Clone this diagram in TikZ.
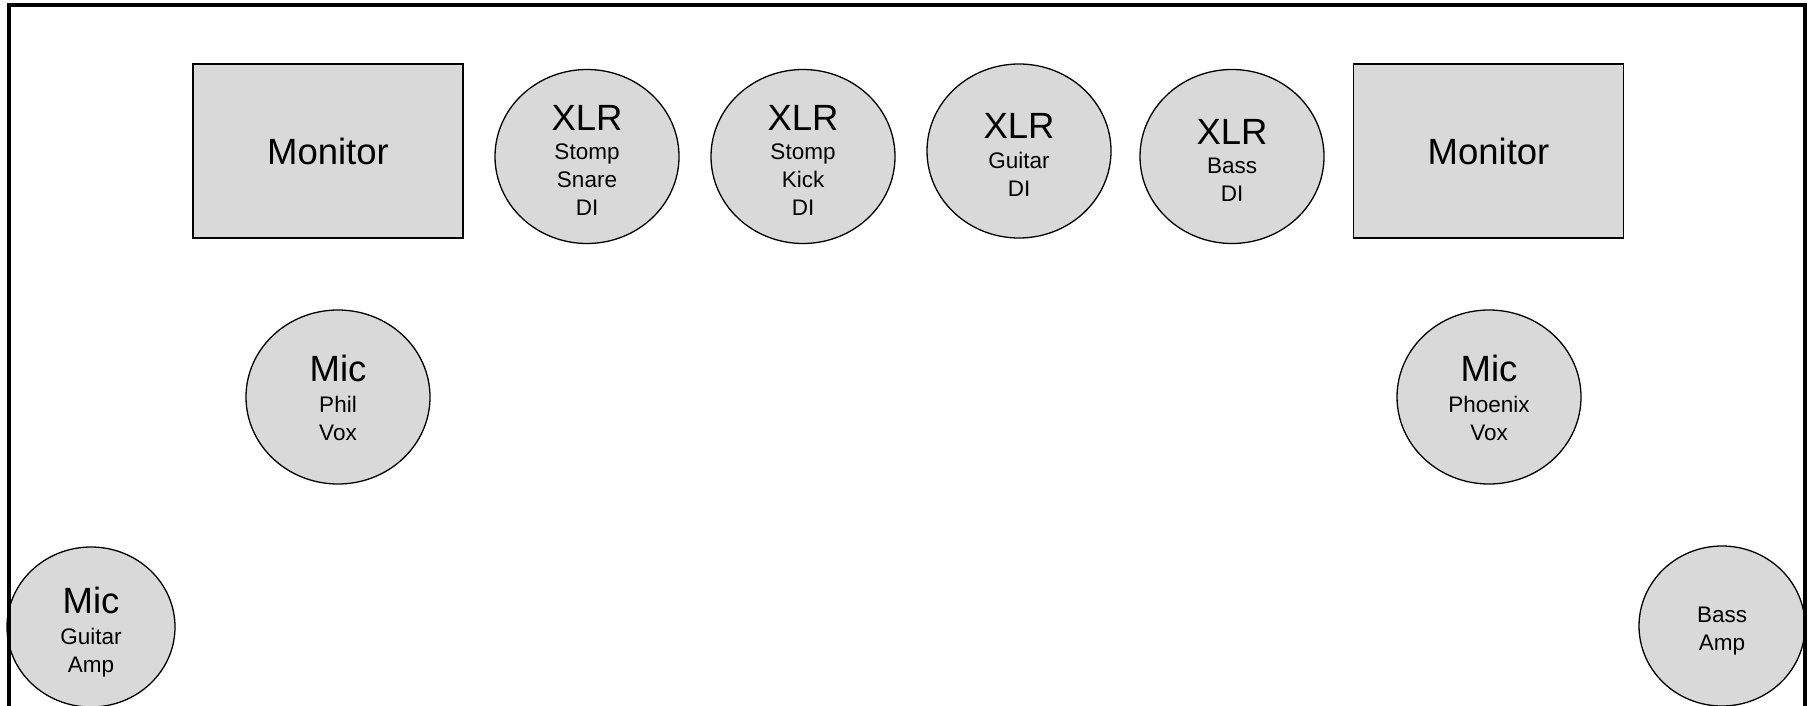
\documentclass[tikz,border=0pt]{standalone}
\usepackage{fontspec}
\setmainfont{Liberation Sans}
\usetikzlibrary{shapes.geometric}
\definecolor{boxgray}{HTML}{D9D9D9}
\newcommand{\bigtxt}[1]{{\fontsize{36.5}{28}\selectfont #1}}
\newcommand{\topgap}[1]{\rule{0pt}{#1}}
\begin{document}
\begin{tikzpicture}[x=1pt,y=-1pt,
  item/.style={fill=boxgray, draw=black, line width=1.3pt, inner sep=0pt, align=center, font=\fontsize{22.5}{28}\selectfont},
  disc/.style={item, ellipse, minimum width=184pt, minimum height=174pt},
  monbox/.style={item, rectangle, minimum width=270pt, minimum height=174pt},
  frame/.style={draw=black, line width=3.5pt}]
\useasboundingbox (0,0) rectangle (1811,706);
\clip (0,0) rectangle (1811,706);
\fill[white] (0,0) rectangle (1811,706);
\node[monbox] (monL) at (328,151) {\bigtxt{Monitor}};
\node[monbox] (monR) at (1488.5,151) {\bigtxt{Monitor}};
\node[disc] (xlrA) at (587,156.5) {\topgap{33pt}\bigtxt{XLR}\\[1.5pt]Stomp\\Snare\\DI};
\node[disc] (xlrB) at (803,156.5) {\topgap{33pt}\bigtxt{XLR}\\[1.5pt]Stomp\\Kick\\DI};
\node[disc] (xlrC) at (1019,151) {\topgap{33pt}\bigtxt{XLR}\\[1.5pt]Guitar\\DI};
\node[disc] (xlrD) at (1232,156.5) {\topgap{33pt}\bigtxt{XLR}\\[1.5pt]Bass\\DI};
\node[disc] (micP) at (338,397) {\topgap{29pt}\bigtxt{Mic}\\[3pt]Phil\\Vox};
\node[disc] (micX) at (1489,397) {\topgap{29pt}\bigtxt{Mic}\\[3pt]Phoenix\\Vox};
\node[disc, minimum width=168pt, minimum height=160pt] (gamp) at (91,627) {\topgap{36pt}\bigtxt{Mic}\\[3pt]Guitar\\Amp};
\node[disc, minimum width=166pt, minimum height=160pt] (bamp) at (1722,626) {\topgap{26pt}Bass\\Amp};
\draw[frame] (9,5) rectangle (1805,760);
\end{tikzpicture}
\end{document}
